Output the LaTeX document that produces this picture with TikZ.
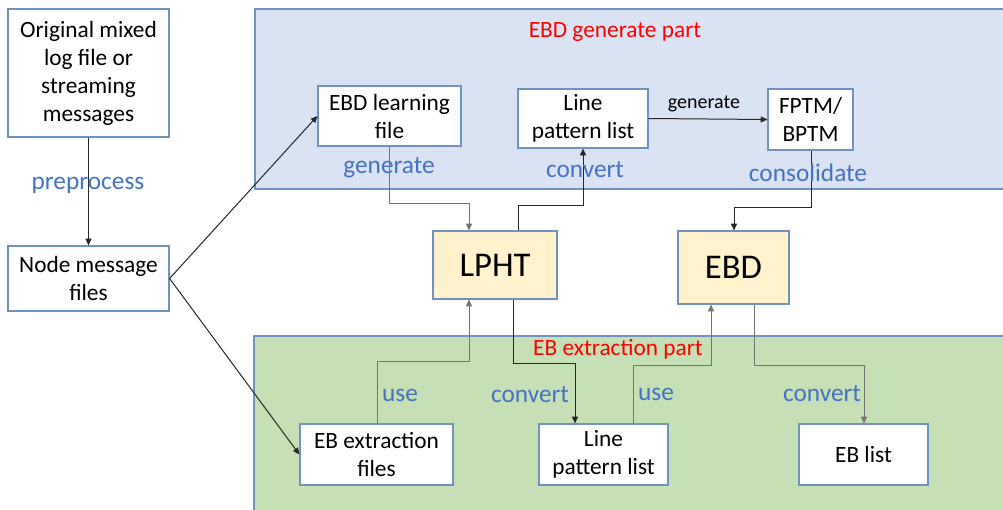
\documentclass[tikz,border=0pt]{standalone}
\usepackage{fontspec}
\setmainfont{Carlito}
\usetikzlibrary{arrows.meta}
\definecolor{bord}{HTML}{6F93BE}
\definecolor{bluefill}{HTML}{DAE3F3}
\definecolor{greenfill}{HTML}{C5E0B4}
\definecolor{yel}{HTML}{FFF2CC}
\definecolor{lblue}{HTML}{4472C4}
\definecolor{lred}{HTML}{FF0000}
\tikzset{
  box/.style={draw=bord, line width=0.9pt, fill=white, align=center, inner sep=0pt,
    font=\fontsize{17.5pt}{21pt}\selectfont},
  core/.style={draw=bord, line width=0.9pt, fill=yel, align=center, inner sep=0pt,
    font=\fontsize{26pt}{30pt}\selectfont},
  panel/.style={draw=bord, line width=0.9pt},
  lbl/.style={text=lblue, inner sep=0pt, font=\fontsize{19pt}{22pt}\selectfont},
  red/.style={text=lred, inner sep=0pt, font=\fontsize{17.5pt}{21pt}\selectfont},
  darr/.style={draw=black!85, line width=0.75pt, -{Triangle[length=5pt,width=4.5pt]}},
  garr/.style={draw=black!55, line width=0.6pt, -{Triangle[length=5pt,width=4.5pt]}},
}
\begin{document}
\begin{tikzpicture}[x=0.75pt,y=-0.75pt]
\useasboundingbox (0,0) rectangle (1003,510);
\fill[white] (0,0) rectangle (1003,510);
% panels
\fill[bluefill] (255,9) rectangle (1010,189);
\draw[panel] (1010,9) -- (255,9) -- (255,189) -- (1010,189);
\fill[greenfill] (254,336) rectangle (1010,515);
\draw[panel] (1010,336) -- (254,336) -- (254,515);
\node[red] (gentitle) at (615,32) {EBD generate part};
\node[red] (exttitle) at (618,349) {EB extraction part};
% boxes
\node[box, minimum width=120.75pt, minimum height=96pt] (orig) at (88.5,73) {Original mixed\\log file or\\streaming\\messages};
\node[box, minimum width=120.75pt, minimum height=48.75pt] (nmf) at (88.5,278.5) {Node message\\files};
\node[box, minimum width=107.25pt, minimum height=45pt] (ebdl) at (389.5,116) {EBD learning\\file};
\node[box, minimum width=97.5pt, minimum height=44.25pt] (lpl1) at (583,118.5) {Line\\pattern list};
\node[box, minimum width=63.75pt, minimum height=45.75pt] (fptm) at (810.5,119.5) {FPTM/\\BPTM};
\node[core, minimum width=93pt, minimum height=51pt] (lpht) at (495,265) {LPHT};
\node[core, minimum width=83.25pt, minimum height=54.75pt] (ebd) at (733.5,267.5) {EBD};
\node[box, minimum width=114.75pt, minimum height=45.75pt] (ebx) at (376.5,454.5) {EB extraction\\files};
\node[box, minimum width=96.75pt, minimum height=45.75pt] (lpl2) at (603.5,454.5) {Line\\pattern list};
\node[box, minimum width=96.75pt, minimum height=45.75pt] (ebl) at (863.5,454.5) {EB list};
% connectors
\draw[darr] (orig.south) -- (nmf.north);
\draw[darr] (nmf.east) -- (ebdl.west);
\draw[darr] (nmf.east) -- (ebx.west);
\draw[garr] (ebdl.south) |- (469,203) -- (469,0 |- lpht.north);
\draw[darr] (518,0 |- lpht.north) |- (583,205) -- (lpl1.south);
\draw[darr] (lpl1.east) -- (fptm.west);
\draw[darr] (811,0 |- fptm.south) |- (734,207) -- (734,0 |- ebd.north);
\draw[garr] (377,0 |- ebx.north) |- (469,361) -- (469,0 |- lpht.south);
\draw[darr] (513,0 |- lpht.south) |- (575,363) -- (575,0 |- lpl2.north);
\draw[garr] (633,0 |- lpl2.north) |- (711,365) -- (711,0 |- ebd.south);
\draw[garr] (754,0 |- ebd.south) |- (864,365) -- (864,0 |- ebl.north);
% labels
\node[lbl] (l1) at (88,185) {preprocess};
\node[lbl] (l2) at (389,168) {generate};
\node[lbl] (l3) at (585,170) {convert};
\node[lbl] (l4) at (808,173) {consolidate};
\node[inner sep=0pt, font=\fontsize{15pt}{18pt}\selectfont] (l5) at (704,104) {generate};
\node[lbl] (l6) at (400,395) {use};
\node[lbl] (l7) at (530,395) {convert};
\node[lbl] (l8) at (656,394) {use};
\node[lbl] (l9) at (822,394) {convert};
\end{tikzpicture}
\end{document}
